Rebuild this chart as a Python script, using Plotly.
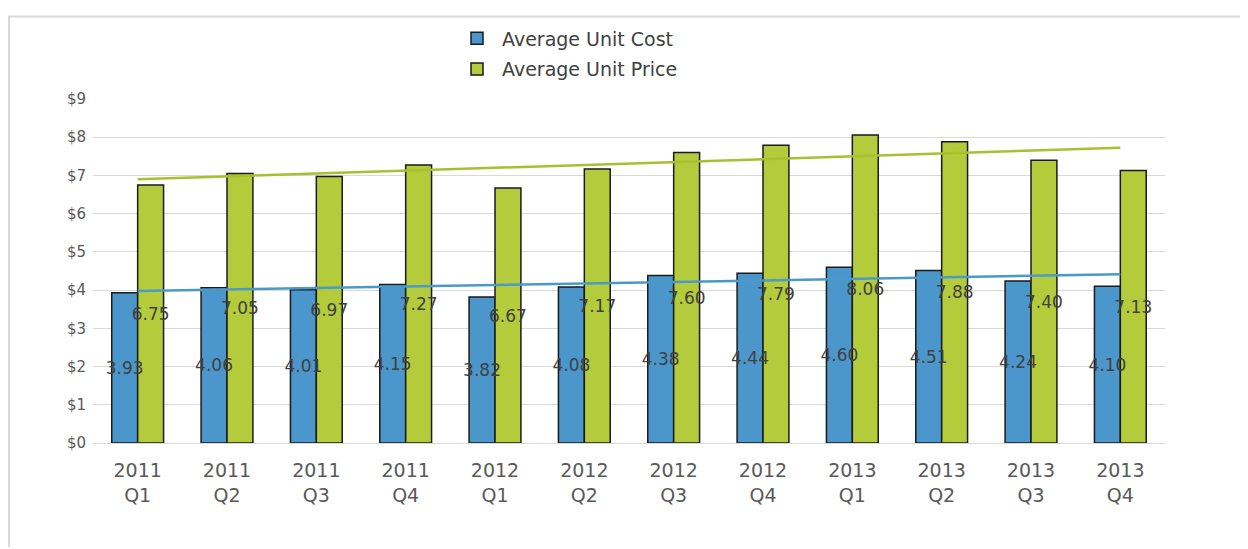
import numpy as np
import plotly.graph_objects as go

categories = ["2011<br>Q1", "2011<br>Q2", "2011<br>Q3", "2011<br>Q4",
              "2012<br>Q1", "2012<br>Q2", "2012<br>Q3", "2012<br>Q4",
              "2013<br>Q1", "2013<br>Q2", "2013<br>Q3", "2013<br>Q4"]
avg_cost = [3.93, 4.06, 4.01, 4.15, 3.82, 4.08, 4.38, 4.44, 4.60, 4.51, 4.24, 4.10]
avg_price = [6.75, 7.05, 6.97, 7.27, 6.67, 7.17, 7.60, 7.79, 8.06, 7.88, 7.40, 7.13]
y_ticks = [0, 1, 2, 3, 4, 5, 6, 7, 8, 9]
y_ticklabels = ["$" + str(v) for v in y_ticks]

FONT = "DejaVu Sans"
TXT = "#404040"

W, H = 1240, 541
L, R, T, B = 85, 83, 85, 106
PW, PH = W - L - R, H - T - B

idx = np.arange(len(categories))
cost_fit = np.polyval(np.polyfit(idx, avg_cost, 1), idx)
price_fit = np.polyval(np.polyfit(idx, avg_price, 1), idx)

fig = go.Figure()
fig.add_trace(go.Bar(
    x=categories, y=avg_cost, name="Average Unit Cost", legendgroup="c",
    marker=dict(color="#4b96cb", line=dict(color="#1a1a1a", width=1.5)),
))
fig.add_trace(go.Bar(
    x=categories, y=avg_price, name="Average Unit Price", legendgroup="p",
    marker=dict(color="#b4cb3c", line=dict(color="#1a1a1a", width=1.5)),
))
# linear trend lines
fig.add_trace(go.Scatter(
    x=categories, y=cost_fit, mode="lines", showlegend=False, hoverinfo="skip",
    line=dict(color="#4a9ac8", width=2.5),
))
fig.add_trace(go.Scatter(
    x=categories, y=price_fit, mode="lines", showlegend=False, hoverinfo="skip",
    line=dict(color="#a8c030", width=2.5),
))
# data labels: transparent copies of the bars on an overlaying axis (drawn on top)
for vals in (avg_cost, avg_price):
    fig.add_trace(go.Bar(
        x=categories, y=vals, xaxis="x2", showlegend=False, hoverinfo="skip",
        marker=dict(color="rgba(0,0,0,0)", line=dict(width=0)),
        text=[f"{v:.2f}" for v in vals], textposition="inside",
        insidetextanchor="middle", textangle=0, constraintext="none",
        textfont=dict(color=TXT, size=17, family=FONT),
    ))

fig.update_layout(
    width=W, height=H,
    margin=dict(l=L, r=R, t=T, b=B),
    paper_bgcolor="white", plot_bgcolor="white",
    barmode="group", bargap=0.42, bargroupgap=0,
    uniformtext=dict(minsize=17, mode="show"),
    font=dict(family=FONT, color="#595959"),
    showlegend=True,
    legend=dict(x=(444 - L) / PW, y=1 + (T - 4) / PH, xanchor="left", yanchor="top",
                orientation="v", font=dict(size=19, color=TXT, family=FONT),
                bgcolor="rgba(0,0,0,0)", tracegroupgap=3, itemwidth=40),
    xaxis=dict(tickfont=dict(size=19, color="#595959"), showline=True,
               linecolor="#d9d9d9", linewidth=1, ticks="", showgrid=False,
               ticklabelstandoff=10),
    xaxis2=dict(overlaying="x", matches="x", visible=False),
    yaxis=dict(range=[0, 9], tickvals=y_ticks, ticktext=y_ticklabels,
               tickfont=dict(size=15, color="#595959"), showgrid=True,
               gridcolor="#d9d9d9", gridwidth=1, zeroline=False, ticks="",
               ticklabelstandoff=6),
    shapes=[
        dict(type="line", xref="paper", yref="paper",
             x0=-L / PW, x1=1 + R / PW,
             y0=1 + (T - 1) / PH, y1=1 + (T - 1) / PH,
             line=dict(color="#d9d9d9", width=2)),
        dict(type="line", xref="paper", yref="paper",
             x0=(1 - L) / PW, x1=(1 - L) / PW,
             y0=1 + (T - 1) / PH, y1=-B / PH,
             line=dict(color="#d9d9d9", width=2)),
    ],
)

fig.write_html("out.html")
